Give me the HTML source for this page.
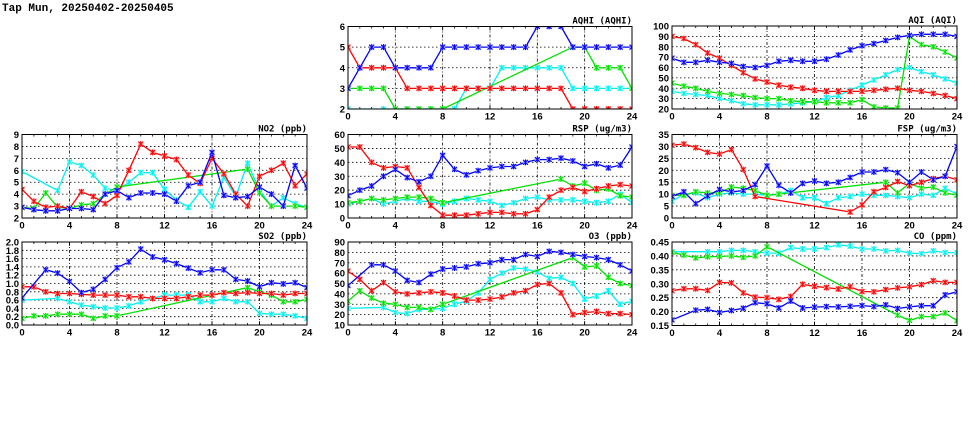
<!DOCTYPE html>
<html><head><meta charset="utf-8"><style>
body{margin:0;background:#fff;}
svg{display:block;font-family:"Liberation Sans",sans-serif;}
</style></head><body>
<svg id="c" width="975" height="447">
<text x="2" y="11" font-size="11" font-weight="bold" font-family="Liberation Mono, monospace">Tap Mun, 20250402-20250405</text>
</svg>
<script>
const N = null;
const hours = [0,1,2,3,4,5,6,7,8,9,10,11,12,13,14,15,16,17,18,19,20,21,22,23,24];
const xTickLabels = ["0","4","8","12","16","20","24"];
const seriesNames = ["cyan","green","red","blue"];
const aqhiBlue=[3,4,5,5,4,4,4,4,5,5,5,5,5,5,5,5,6,6,6,5,5,5,5,5,5];
const aqhiRed=[5,4,4,4,4,3,3,3,3,3,3,3,3,3,3,3,3,3,3,2,2,2,2,2,2];
const aqhiCyan=[2,N,N,2,2,2,2,2,2,2,3,3,3,4,4,4,4,4,4,3,3,3,3,3,3];
const aqhiGreen=[3,3,3,3,2,2,2,2,2,N,N,N,N,N,N,N,N,N,N,5,5,4,4,4,3];
const aqiBlue=[69,65,65,67,65,64,61,60,62,66,67,66,66,68,72,77,81,83,86,89,91,92,92,92,90];
const aqiRed=[90,88,82,74,69,62,55,49,46,43,41,40,38,37,37,37,37,38,39,40,38,37,35,33,30];
const aqiGreen=[45,42,40,37,35,34,33,31,30,30,28,27,27,26,26,26,29,22,21,21,90,82,80,75,69];
const aqiCyan=[37,35,34,33,30,28,25,24,24,24,25,26,27,31,33,38,43,48,53,58,60,56,53,49,45];
const no2Red=[4.4,3.4,2.9,3.0,2.8,4.2,3.8,3.2,3.9,6.0,8.2,7.5,7.2,6.9,5.6,4.9,7.0,5.7,4.0,3.0,5.5,6.0,6.6,4.7,5.7];
const no2Blue=[2.9,2.7,2.6,2.6,2.8,2.8,2.7,4.0,4.3,3.7,4.1,4.1,4.0,3.4,4.7,5.0,7.5,3.9,3.7,3.8,4.6,4.0,3.0,6.4,4.5];
const no2Cyan=[5.9,N,N,4.3,6.7,6.4,5.6,4.5,4.3,5.0,5.8,5.8,4.4,3.5,2.9,4.2,3.0,5.4,3.8,6.6,4.3,3.0,3.7,3.2,2.9];
const no2Green=[2.9,2.8,4.1,2.9,2.8,3.1,3.2,4.0,4.6,N,N,N,N,N,N,N,N,N,N,6.1,4.1,3.0,3.0,3.0,2.9];
const rspRed=[51,51,40,36,37,36,22,9,2,2,2,3,4,4,3,3,6,15,20,22,19,21,23,24,23];
const rspBlue=[16,20,23,30,35,29,26,30,45,35,31,34,36,37,37,40,42,42,43,41,37,39,36,38,51];
const rspGreen=[11,12,14,13,14,15,15,14,11,N,N,N,N,N,N,N,N,N,28,23,25,20,21,16,15];
const rspCyan=[10,12,14,10,12,14,12,12,10,12,14,13,12,9,11,14,15,13,13,13,12,11,12,17,11];
const fspRed=[30.5,31,29.5,27.5,26.8,28.7,20.3,9,N,N,N,N,N,N,N,2.5,5.5,11,12.8,15.3,13.5,15,16.5,17.5,16];
const fspBlue=[9,11,6,9.3,12,11,11.5,14,21.8,13.7,10.5,14.5,15.5,14.5,15,17,19.3,19.3,20.3,19,15,19.3,16,17.5,30];
const fspGreen=[9.5,9.5,11,10.5,10.5,13,12.5,11.5,9.5,10,N,N,N,N,N,N,N,N,15,10.5,14.5,12.5,13,10.5,9.5];
const fspCyan=[7,10,10.5,8.5,10,10.5,10,10,9.5,10,11.5,8.5,8.5,6,8.5,9,10,9.5,9.5,9,8.5,10,9.5,12.5,10];
const so2Blue=[0.65,N,1.33,1.25,1.05,0.78,0.86,1.1,1.38,1.52,1.83,1.64,1.57,1.48,1.37,1.26,1.33,1.33,1.1,1.06,0.92,1.02,0.99,1.02,0.9];
const so2Red=[0.92,0.92,0.8,0.76,0.76,0.74,0.72,0.72,0.72,0.68,0.68,0.64,0.64,0.64,0.68,0.72,0.72,0.78,0.76,0.78,0.76,0.76,0.72,0.76,0.76];
const so2Cyan=[0.6,N,N,0.64,0.56,0.48,0.44,0.41,0.41,0.46,0.56,0.64,0.72,0.72,0.72,0.56,0.56,0.64,0.56,0.56,0.28,0.26,0.26,0.22,0.16];
const so2Green=[0.16,0.22,0.22,0.26,0.26,0.26,0.16,0.22,0.22,N,N,N,N,N,N,N,N,N,N,0.9,0.8,0.72,0.56,0.56,0.62];
const o3Blue=[48,N,68,68,62,53,51,59,64,65,66,69,70,73,73,78,76,81,80,78,76,75,73,68,62];
const o3Red=[62,54,43,51,42,40,41,42,41,38,34,34,35,37,41,43,49,50,41,20,22,23,21,21,20];
const o3Green=[33,43,36,31,30,27,27,25,30,N,N,N,N,N,N,N,N,N,N,75,66,67,56,50,48];
const o3Cyan=[26,N,N,27,22,21,25,25,26,30,33,41,54,60,65,64,61,55,56,50,35,38,43,30,33];
const coCyan=[0.415,N,N,0.415,0.415,0.42,0.42,0.415,0.41,0.41,0.43,0.425,0.425,0.43,0.44,0.435,0.425,0.425,0.418,0.42,0.41,0.408,0.418,0.412,0.412];
const coRed=[0.275,0.282,0.282,0.276,0.305,0.303,0.267,0.252,0.25,0.244,0.254,0.298,0.291,0.286,0.281,0.289,0.272,0.271,0.279,0.285,0.289,0.297,0.311,0.305,0.305];
const coBlue=[0.17,N,0.205,0.208,0.197,0.204,0.212,0.232,0.228,0.213,0.238,0.213,0.216,0.218,0.217,0.219,0.222,0.218,0.224,0.211,0.217,0.221,0.221,0.26,0.271];
const coGreen=[0.413,0.403,0.393,0.397,0.398,0.4,0.395,0.4,0.433,N,N,N,N,N,N,N,N,N,N,0.187,0.168,0.182,0.182,0.195,0.167];

const colors={cyan:"#00f0f0",green:"#00e000",red:"#ff0000",blue:"#0000ff"};
const fills={cyan:"#a0ffff",green:"#a0ffa0",red:"#ffa0a0",blue:"#a0a0ff"};
const NS="http://www.w3.org/2000/svg";
const svg=document.getElementById('c');
function mk(tag,attrs,parent){const e=document.createElementNS(NS,tag);for(const k in attrs)e.setAttribute(k,attrs[k]);(parent||svg).appendChild(e);return e;}

const panels=[
 {name:"aqhi",title:"AQHI (AQHI)",x0:348,x1:632,y0:26.5,y1:109,min:2,max:6,step:1,dec:0,s:{cyan:aqhiCyan,green:aqhiGreen,red:aqhiRed,blue:aqhiBlue}},
 {name:"aqi",title:"AQI (AQI)",x0:672,x1:957,y0:26,y1:109,min:20,max:100,step:10,dec:0,s:{cyan:aqiCyan,green:aqiGreen,red:aqiRed,blue:aqiBlue}},
 {name:"no2",title:"NO2 (ppb)",x0:22,x1:307,y0:134.5,y1:218,min:2,max:9,step:1,dec:0,s:{cyan:no2Cyan,green:no2Green,red:no2Red,blue:no2Blue}},
 {name:"rsp",title:"RSP (ug/m3)",x0:348,x1:632,y0:134.5,y1:218,min:0,max:60,step:10,dec:0,s:{cyan:rspCyan,green:rspGreen,red:rspRed,blue:rspBlue}},
 {name:"fsp",title:"FSP (ug/m3)",x0:672,x1:957,y0:134.5,y1:218,min:0,max:35,step:5,dec:0,s:{cyan:fspCyan,green:fspGreen,red:fspRed,blue:fspBlue}},
 {name:"so2",title:"SO2 (ppb)",x0:22,x1:307,y0:242,y1:325,min:0,max:2,step:0.2,dec:1,s:{cyan:so2Cyan,green:so2Green,red:so2Red,blue:so2Blue}},
 {name:"o3",title:"O3 (ppb)",x0:348,x1:632,y0:242,y1:325,min:10,max:90,step:10,dec:0,s:{cyan:o3Cyan,green:o3Green,red:o3Red,blue:o3Blue}},
 {name:"co",title:"CO (ppm)",x0:672,x1:957,y0:242,y1:325.5,min:0.15,max:0.45,step:0.05,dec:2,s:{cyan:coCyan,green:coGreen,red:coRed,blue:coBlue}}
];

panels.forEach(p=>{
 const g=mk('g',{});
 
 
 const xs=h=>p.x0+(p.x1-p.x0)*h/24;
 const ys=v=>p.y1-(p.y1-p.y0)*(v-p.min)/(p.max-p.min);
 const clip=mk('clipPath',{id:'cl-'+p.name},g);
 mk('rect',{x:p.x0,y:p.y0,width:p.x1-p.x0,height:p.y1-p.y0},clip);
 const nT=Math.round((p.max-p.min)/p.step);
 for(let i=0;i<=nT;i++){
  const v=p.min+i*p.step, y=ys(v);
  if(i>0&&i<nT){const l=mk('line',{x1:p.x0,x2:p.x1,y1:y,y2:y,stroke:"#000","stroke-width":0.8,"stroke-dasharray":"1.5,2.5"},g);
   }
  const t=mk('text',{x:p.x0-3,y:y+3.5,"text-anchor":"end","font-size":9.5,"font-weight":"bold"},g);
  t.textContent=v.toFixed(p.dec);
  
 }
 for(let h=0;h<=24;h++){
  const x=xs(h);
  mk('line',{x1:x,x2:x,y1:p.y1,y2:p.y1-(h%4==0?4:2),stroke:"#000","stroke-width":0.8},g);
  mk('line',{x1:x,x2:x,y1:p.y0,y2:p.y0+(h%4==0?4:2),stroke:"#000","stroke-width":0.8},g);
 }
 xTickLabels.forEach(lbl=>{
  const h=+lbl,x=xs(h);
  if(h>0&&h<24){const l=mk('line',{x1:x,x2:x,y1:p.y0,y2:p.y1,stroke:"#000","stroke-width":0.8,"stroke-dasharray":"3,2,1,2"},g);
   }
  const t=mk('text',{x:x,y:p.y1+10.5,"text-anchor":"middle","font-size":9.5,"font-weight":"bold"},g);
  t.textContent=lbl;
  
 });
 const tt=mk('text',{x:p.x1,y:p.y0-3,"text-anchor":"end","font-size":9,"font-weight":"bold","font-family":"DejaVu Sans Mono, monospace"},g);
 tt.textContent=p.title;
 
 const sg=mk('g',{"clip-path":"url(#cl-"+p.name+")"},g);
 seriesNames.forEach(sn=>{
  const d=p.s[sn];
  const pts=[];
  hours.forEach((h,i)=>{if(d[i]!==null)pts.push([xs(h),ys(d[i])]);});
  const pl=mk('polyline',{points:pts.map(q=>q[0].toFixed(1)+','+q[1].toFixed(1)).join(' '),fill:"none",stroke:colors[sn],"stroke-width":1.3},sg);
  
  
  pts.forEach(q=>{
   const m=mk('g',{},sg);
   
   
   mk('rect',{x:q[0]-2.5,y:q[1]-2.5,width:5,height:5,fill:fills[sn]},m);
   mk('path',{d:`M${q[0]-2.5},${q[1]-2.5}L${q[0]+2.5},${q[1]+2.5}M${q[0]+2.5},${q[1]-2.5}L${q[0]-2.5},${q[1]+2.5}M${q[0]},${q[1]-3}V${q[1]+3}`,stroke:colors[sn],"stroke-width":1},m);
  });
 });
 const fr=mk('rect',{x:p.x0,y:p.y0,width:p.x1-p.x0,height:p.y1-p.y0,fill:"none",stroke:"#000","stroke-width":1},g);
 
 
});
</script>
</body></html>
